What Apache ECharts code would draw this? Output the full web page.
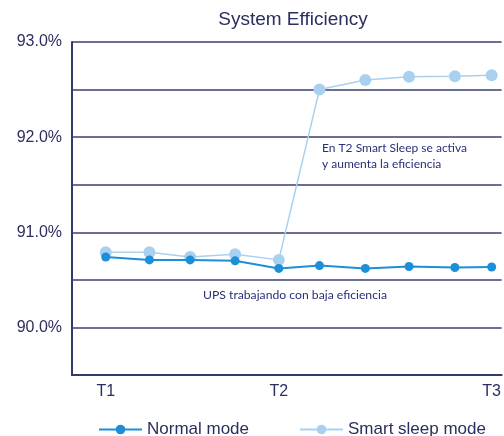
<!DOCTYPE html>
<html><head><meta charset="utf-8">
<script src="https://cdn.jsdelivr.net/npm/echarts@6/dist/echarts.min.js"></script>
<style>html,body{margin:0;padding:0;background:#fff}#c{width:504px;height:436px}</style>
</head><body><div id="c"></div>
<script>
const steps = [0,1.01,1.95,2.99,4,4.94,6,7.01,8.07,8.92];
const tickPositions = [0,4,8.92];
const tickLabels = ['T1','T2','T3'];
const normalMode = [90.74,90.71,90.71,90.70,90.62,90.65,90.62,90.64,90.63,90.635];
const smartSleep = [90.79,90.79,90.74,90.77,90.71,92.50,92.60,92.635,92.64,92.65];
const yTicks = [90,91,92,93];

const navy = '#2b2f5e';
const chart = echarts.init(document.getElementById('c'));
chart.setOption({
  animation:false,
  textStyle:{fontFamily:'Liberation Sans, Arial, sans-serif'},
  title:{text:'System Efficiency', left:288, top:5, textAlign:'center',
    textStyle:{fontSize:19, fontWeight:'normal', color:navy}},
  grid:{left:72, top:42, right:0, bottom:61},
  xAxis:{type:'value', min:-0.78, max:9.15,
    axisLine:{show:true, onZero:false, lineStyle:{color:'#343a6a', width:2}},
    axisTick:{show:false}, splitLine:{show:false},
    axisLabel:{customValues:tickPositions, color:navy, fontSize:16, margin:9,
      formatter:v=>{const i=tickPositions.findIndex(t=>Math.abs(t-v)<0.01); return i>=0?tickLabels[i]:'';}}},
  yAxis:{type:'value', min:89.5, max:93, interval:0.5,
    axisLine:{show:true, onZero:false, lineStyle:{color:'#343a6a', width:2}},
    axisTick:{show:false},
    splitLine:{lineStyle:{color:'#3a3f6e', width:1.5}},
    axisLabel:{color:navy, fontSize:16, margin:10,
      formatter:v=> yTicks.includes(Math.round(v*100)/100) ? v.toFixed(1)+'%' : ''}},
  legend:{left:98, top:421, itemWidth:43, itemHeight:12, itemGap:50, padding:0,
    textStyle:{fontSize:17, color:navy},
    data:['Normal mode','Smart sleep mode']},
  series:[
    {name:'Smart sleep mode', type:'line', data:steps.map((x,i)=>[x,smartSleep[i]]),
      symbol:'circle', symbolSize:12, z:2,
      itemStyle:{color:'#a9d1ef'}, lineStyle:{color:'#a9d1ef', width:1.5}},
    {name:'Normal mode', type:'line', data:steps.map((x,i)=>[x,normalMode[i]]),
      symbol:'circle', symbolSize:9, z:3,
      itemStyle:{color:'#1c8fd8'}, lineStyle:{color:'#1c8fd8', width:2}}
  ],
  graphic:[
    {type:'text', left:322, top:140, style:{text:'En T2 Smart Sleep se activa\ny aumenta la eficiencia',
      font:'12px Lato, "Open Sans", sans-serif', fill:'#2a2f78', lineHeight:16}},
    {type:'text', left:203, top:289, style:{text:'UPS trabajando con baja eficiencia',
      font:'12.2px Lato, "Open Sans", sans-serif', fill:'#2a2f78'}}
  ]
});
</script></body></html>
